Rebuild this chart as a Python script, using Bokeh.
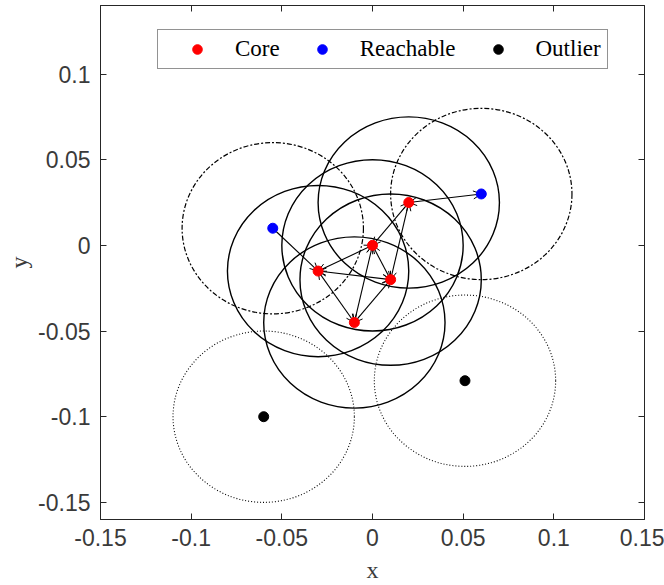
from bokeh.plotting import figure
from bokeh.models import (ColumnDataSource, Arrow, OpenHead, Legend, LegendItem,
                          LinearAxis, FixedTicker, Range1d)
from bokeh.embed import file_html
from bokeh.resources import INLINE

# ---- data -------------------------------------------------------------
core_x = [0.0, -0.03, 0.01, -0.01, 0.02]
core_y = [0.0, -0.015, -0.02, -0.045, 0.025]
reach_x = [-0.055, 0.06]
reach_y = [0.01, 0.03]
outlier_x = [-0.06, 0.051]
outlier_y = [-0.1, -0.079]
eps = 0.05

# links between core points (index pairs), heads at both ends
core_links = [(0, 1), (0, 2), (0, 3), (0, 4), (1, 2), (1, 3), (2, 3), (2, 4)]
# links core -> reachable (core index, reachable index, head at reachable end?)
reach_links = [(4, 1, True), (1, 0, False)]

x_ticks = [-0.15, -0.1, -0.05, 0, 0.05, 0.1, 0.15]
x_tick_labels = ["-0.15", "-0.1", "-0.05", "0", "0.05", "0.1", "0.15"]
y_ticks = [-0.15, -0.1, -0.05, 0, 0.05, 0.1]
y_tick_labels = ["-0.15", "-0.1", "-0.05", "0", "0.05", "0.1"]

legend_labels = ["Core", "Reachable", "Outlier"]

# ---- figure -----------------------------------------------------------
AX = "#262626"
p = figure(width=664, height=585, output_backend="svg", toolbar_location=None,
           x_range=Range1d(-0.15, 0.15), y_range=Range1d(-0.16, 0.14),
           min_border_left=100, min_border_right=20, min_border_top=5,
           min_border_bottom=65, background_fill_color="white",
           border_fill_color="white")
p.grid.visible = False
p.outline_line_color = AX
p.outline_line_width = 1

# extra axes for ticks on top and right (no labels)
p.add_layout(LinearAxis(), "above")
p.add_layout(LinearAxis(), "right")

for ax, ticks, labels in [(p.xaxis, x_ticks, x_tick_labels),
                          (p.yaxis, y_ticks, y_tick_labels)]:
    for a in ax:
        a.ticker = FixedTicker(ticks=ticks)
        a.major_label_overrides = {t: l for t, l in zip(ticks, labels)}
        a.major_tick_in = 6
        a.major_tick_out = 0
        a.minor_tick_line_color = None
        a.axis_line_color = AX
        a.major_tick_line_color = AX
        a.major_label_text_font = "Liberation Sans"
        a.major_label_text_font_size = "23px"
        a.major_label_text_color = "#3a3a3a"
        a.axis_label_text_font = "Liberation Serif"
        a.axis_label_text_font_size = "24px"
        a.axis_label_text_font_style = "normal"
        a.axis_label_text_color = "#3a3a3a"

p.below[0].axis_label = "x"
p.below[0].major_label_standoff = 9
p.below[0].axis_label_standoff = 8
p.left[0].axis_label = "y"
p.left[0].major_label_standoff = 10
p.left[0].axis_label_standoff = 3
for a in (p.above[0], p.right[0]):
    a.major_label_overrides = {t: "" for t in a.ticker.ticks}
    a.major_label_standoff = 0

# ---- eps circles ------------------------------------------------------
p.ellipse(x=core_x, y=core_y, width=2 * eps, height=2 * eps, fill_color=None,
          line_color="black", line_width=1.4)
p.ellipse(x=reach_x, y=reach_y, width=2 * eps, height=2 * eps, fill_color=None,
          line_color="black", line_width=1.2, line_dash="5 2 2 2")
p.ellipse(x=outlier_x, y=outlier_y, width=2 * eps, height=2 * eps,
          fill_color=None, line_color="black", line_width=1.1, line_dash="1 2")

# ---- arrows -----------------------------------------------------------
def head():
    return OpenHead(size=8, line_color="black", line_width=1)

dbl = ColumnDataSource(dict(
    x0=[core_x[i] for i, j in core_links] + [core_x[i] for i, j, d in reach_links if d],
    y0=[core_y[i] for i, j in core_links] + [core_y[i] for i, j, d in reach_links if d],
    x1=[core_x[j] for i, j in core_links] + [reach_x[j] for i, j, d in reach_links if d],
    y1=[core_y[j] for i, j in core_links] + [reach_y[j] for i, j, d in reach_links if d],
))
p.add_layout(Arrow(start=head(), end=head(), x_start="x0", y_start="y0",
                   x_end="x1", y_end="y1", source=dbl, line_color="black",
                   line_width=1.1))
sgl = ColumnDataSource(dict(
    x0=[reach_x[j] for i, j, d in reach_links if not d],
    y0=[reach_y[j] for i, j, d in reach_links if not d],
    x1=[core_x[i] for i, j, d in reach_links if not d],
    y1=[core_y[i] for i, j, d in reach_links if not d],
))
p.add_layout(Arrow(end=head(), x_start="x0", y_start="y0",
                   x_end="x1", y_end="y1", source=sgl, line_color="black",
                   line_width=1.1))

# ---- points -----------------------------------------------------------
r_core = p.scatter(core_x, core_y, size=10, color="#ff0000")
r_reach = p.scatter(reach_x, reach_y, size=10, color="#0000ff")
r_out = p.scatter(outlier_x, outlier_y, size=10, color="black")
for r in (r_core, r_reach, r_out):
    r.level = "overlay"

legend = Legend(items=[LegendItem(label=l, renderers=[r]) for l, r in
                       zip(legend_labels, (r_core, r_reach, r_out))],
                orientation="horizontal", location=(57, 450), padding=6,
                glyph_width=66, glyph_height=24, label_standoff=5, spacing=9,
                label_text_font="Liberation Serif", label_text_font_size="23px",
                label_text_color="black", border_line_color=AX,
                border_line_width=1, margin=0, background_fill_alpha=1)
p.add_layout(legend)

open("out.html", "w").write(file_html(p, INLINE))
